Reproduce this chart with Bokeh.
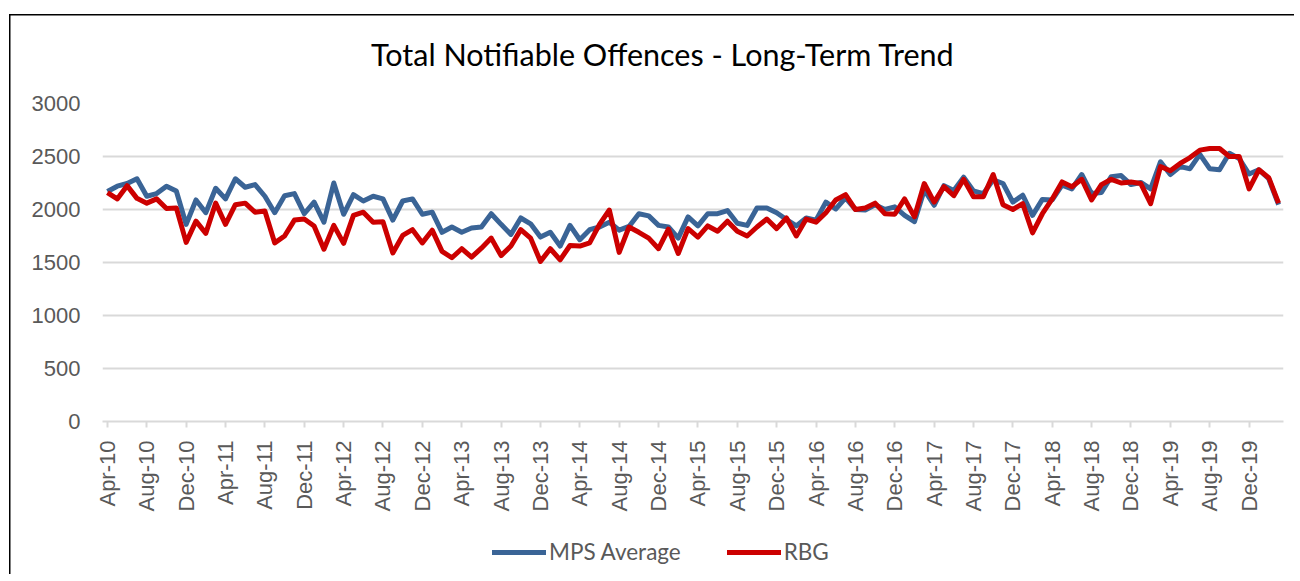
import pandas as pd
from bokeh.plotting import figure
from bokeh.layouts import column
from bokeh.models import Range1d, FixedTicker, Legend, LegendItem, ColumnDataSource, Div
from bokeh.embed import file_html
from bokeh.resources import INLINE

# ---- data ----
title_text = "Total Notifiable Offences - Long-Term Trend"
months = list(pd.date_range("2010-04-01", periods=120, freq="MS").strftime("%b-%y"))

mps = [2170, 2220, 2245, 2290, 2125, 2150, 2220, 2175, 1860, 2090,
       1970, 2200, 2100, 2290, 2210, 2235, 2125, 1970, 2130, 2150,
       1960, 2070, 1880, 2250, 1955, 2140, 2080, 2125, 2100, 1900,
       2080, 2100, 1955, 1975, 1785, 1835, 1785, 1825, 1835, 1960,
       1860, 1765, 1920, 1865, 1740, 1785, 1655, 1850, 1715, 1810,
       1835, 1880, 1805, 1840, 1960, 1940, 1850, 1835, 1730, 1930,
       1845, 1960, 1960, 1990, 1870, 1850, 2015, 2015, 1970, 1905,
       1845, 1920, 1900, 2070, 2005, 2110, 2000, 1995, 2045, 2000,
       2025, 1945, 1885, 2185, 2040, 2225, 2180, 2305, 2175, 2150,
       2280, 2245, 2070, 2135, 1945, 2095, 2090, 2230, 2195, 2330,
       2150, 2160, 2310, 2320, 2235, 2255, 2195, 2450, 2330, 2405,
       2385, 2520, 2385, 2375, 2530, 2480, 2335, 2375, 2290, 2045]

rbg = [2160, 2100, 2225, 2105, 2060, 2100, 2010, 2015, 1690, 1890,
       1775, 2060, 1860, 2045, 2060, 1975, 1985, 1685, 1750, 1900,
       1910, 1845, 1625, 1850, 1680, 1945, 1975, 1880, 1885, 1590,
       1755, 1810, 1685, 1805, 1605, 1545, 1630, 1550, 1635, 1730,
       1565, 1655, 1810, 1730, 1510, 1630, 1525, 1660, 1655, 1685,
       1860, 1995, 1595, 1835, 1785, 1730, 1630, 1815, 1585, 1820,
       1740, 1845, 1795, 1890, 1795, 1750, 1835, 1910, 1820, 1920,
       1750, 1910, 1880, 1970, 2090, 2140, 2000, 2015, 2060, 1960,
       1955, 2100, 1930, 2245, 2070, 2215, 2130, 2285, 2120, 2120,
       2330, 2045, 2000, 2055, 1780, 1960, 2100, 2260, 2215, 2285,
       2090, 2235, 2285, 2250, 2260, 2245, 2055, 2405, 2365, 2435,
       2490, 2560, 2575, 2575, 2500, 2500, 2195, 2375, 2300, 2060]

series_names = ["MPS Average", "RBG"]
tick_labels = months[::4]
y_ticks = [0, 500, 1000, 1500, 2000, 2500, 3000]

# ---- build ----
n = len(months)
xpos = [i + 0.5 for i in range(n)]  # category centres
src = ColumnDataSource(dict(x=xpos, mps=mps, rbg=rbg))

GRID = "#d9d9d9"
TXT = "#595959"
BLUE = "#3a6496"
RED = "#cc0000"
W = 1284

title_div = Div(
    text=('<div style="position:relative; left:366px; top:31px; font-family:Lato; '
          'font-size:30.5px; line-height:36px; color:#000000; white-space:nowrap;">'
          + title_text + '</div>'),
    width=W, height=79)

p = figure(width=W, height=430, output_backend="svg", toolbar_location=None,
           x_range=Range1d(0, n), y_range=Range1d(0, 3000),
           min_border_left=102, min_border_right=1, min_border_top=14, min_border_bottom=98)
p.outline_line_color = None
p.background_fill_color = "white"
p.border_fill_color = None

# y axis
p.yaxis.ticker = FixedTicker(ticks=y_ticks)
p.yaxis.axis_line_color = None
p.yaxis.major_tick_line_color = None
p.yaxis.major_tick_in = 0
p.yaxis.major_tick_out = 0
p.yaxis.minor_tick_line_color = None
p.yaxis.major_label_standoff = 22
p.yaxis.major_label_text_font = "Liberation Sans"
p.yaxis.major_label_text_font_size = "22px"
p.yaxis.major_label_text_color = TXT

p.ygrid.ticker = FixedTicker(ticks=y_ticks)
p.ygrid.grid_line_color = GRID
p.ygrid.grid_line_width = 2
p.xgrid.grid_line_color = None

# x axis: labels at category centres
label_ticks = [xpos[i] for i in range(0, n, 4)]
xa = p.xaxis[0]
xa.ticker = FixedTicker(ticks=label_ticks)
xa.major_label_overrides = {t: lab for t, lab in zip(label_ticks, tick_labels)}
xa.axis_line_color = GRID
xa.axis_line_width = 2
xa.major_tick_line_color = GRID
xa.major_tick_line_width = 2
xa.major_tick_in = 0
xa.major_tick_out = 6
xa.minor_tick_line_color = None
xa.major_label_orientation = 1.5707963
xa.major_label_standoff = 13
xa.major_label_text_font = "Liberation Sans"
xa.major_label_text_font_size = "22px"
xa.major_label_text_color = TXT

p.line("x", "mps", source=src, line_color=BLUE, line_width=5, line_join="round")
p.line("x", "rbg", source=src, line_color=RED, line_width=5, line_join="round")

# legend strip below the chart (legend-only renderers hold no visible data)
pl = figure(width=W, height=55, output_backend="svg", toolbar_location=None,
            x_range=Range1d(0, 1), y_range=Range1d(0, 1),
            x_axis_location=None, y_axis_location=None, min_border=0)
pl.outline_line_color = None
pl.border_fill_color = None
pl.background_fill_color = None
pl.grid.visible = False
nan = float("nan")
l1 = pl.line(x=[nan, nan], y=[nan, nan], line_color=BLUE, line_width=5, line_cap="round")
l2 = pl.line(x=[nan, nan], y=[nan, nan], line_color=RED, line_width=5, line_cap="round")
legend = Legend(items=[LegendItem(label=series_names[0], renderers=[l1]),
                       LegendItem(label=series_names[1], renderers=[l2])],
                orientation="horizontal", location=(390, 9))
legend.label_text_font = "Lato"
legend.label_text_font_size = "22.5px"
legend.label_text_color = TXT
legend.glyph_width = 54
legend.glyph_height = 20
legend.label_standoff = 3
legend.spacing = 46
legend.padding = 2
legend.margin = 0
legend.border_line_color = None
legend.background_fill_alpha = 0
pl.add_layout(legend, "center")

# chart-area border (top and left edges, as in the reference)
frame_bg = ("linear-gradient(#000,#000) 9px 14px / 1.5px 100% no-repeat, "
            "linear-gradient(#000,#000) 9px 14px / 100% 1.5px no-repeat, #ffffff")
layout = column(title_div, p, pl, spacing=0, styles={"background": frame_bg})
open("out.html", "w").write(file_html(layout, INLINE))
